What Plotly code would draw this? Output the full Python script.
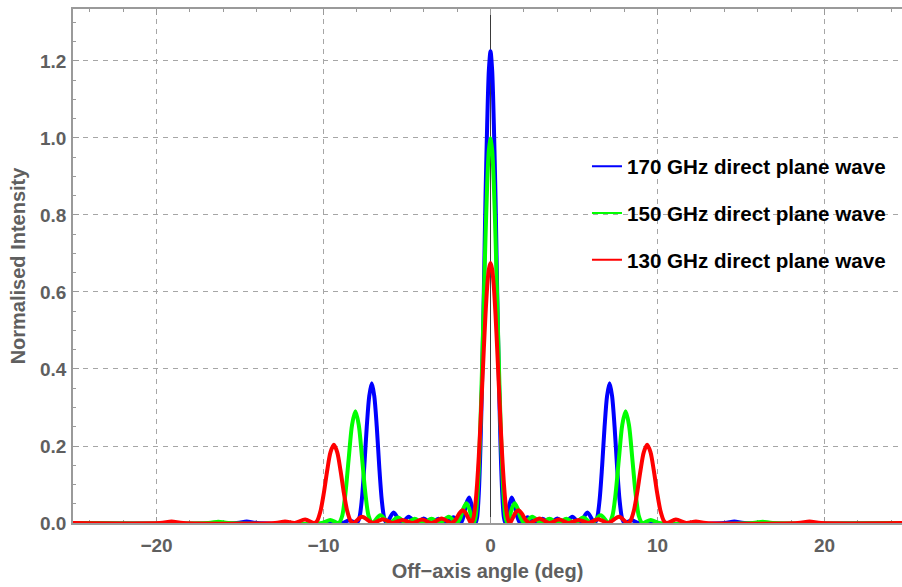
import plotly.graph_objects as go

# Far-field patterns of the direct plane wave at three frequencies
# (off-axis angle in degrees, intensity normalised to the 150 GHz peak)

deg_170 = [-25, -15.2, -14.6, -14.0, -8.9, -8.45, -8.01,
           -7.86, -7.71, -7.56, -7.41, -7.26, -7.11, -6.96, -6.81, -6.66, -6.51, -6.36,
           -6.22, -5.8, -5.34, -4.9, -4.45, -4.0, -3.56, -3.12, -2.67, -2.22, -1.78,
           -1.6, -1.45, -1.28, -1.12, -1.0, -0.89,
           -0.8, -0.7, -0.6, -0.5, -0.4, -0.3, -0.2, -0.1, 0,
           0.1, 0.2, 0.3, 0.4, 0.5, 0.6, 0.7, 0.8, 0.89,
           1.0, 1.12, 1.27, 1.42, 1.58, 1.78,
           2.22, 2.67, 3.12, 3.56, 4.0, 4.45, 4.9, 5.34, 5.8, 6.23,
           6.38, 6.53, 6.68, 6.83, 6.98, 7.13, 7.28, 7.43, 7.58, 7.73, 7.88,
           8.03, 8.45, 8.9, 14.0, 14.6, 15.2, 25]
int_170 = [0, 0, 0.004, 0, 0, 0.007, 0,
           0.012, 0.059, 0.145, 0.25, 0.33, 0.363, 0.33, 0.25, 0.145, 0.059, 0.012,
           0, 0.027, 0, 0.016, 0, 0.012, 0, 0.011, 0, 0.015, 0,
           0.02, 0.05, 0.066, 0.045, 0.016, 0,
           0.015, 0.078, 0.20, 0.38, 0.60, 0.845, 1.035, 1.175, 1.225,
           1.175, 1.035, 0.845, 0.60, 0.38, 0.20, 0.078, 0.015, 0,
           0.016, 0.045, 0.066, 0.05, 0.02, 0,
           0.015, 0, 0.011, 0, 0.012, 0, 0.016, 0, 0.027, 0,
           0.012, 0.059, 0.145, 0.25, 0.33, 0.363, 0.33, 0.25, 0.145, 0.059, 0.012,
           0, 0.007, 0, 0, 0.004, 0, 0]

deg_150 = [-25, -16.9, -16.3, -15.7, -10.1, -9.6, -9.09,
           -8.89, -8.69, -8.49, -8.29, -8.09, -7.89, -7.69, -7.49, -7.29,
           -7.07, -6.6, -6.06, -5.55, -5.05, -4.55, -4.04, -3.53, -3.03, -2.5, -2.02,
           -1.8, -1.62, -1.45, -1.3, -1.15, -1.01,
           -0.9, -0.8, -0.7, -0.6, -0.5, -0.4, -0.3, -0.2, -0.1, 0,
           0.1, 0.2, 0.3, 0.4, 0.5, 0.6, 0.7, 0.8, 0.9,
           1.01, 1.15, 1.3, 1.45, 1.62, 1.8, 2.02,
           2.5, 3.03, 3.53, 4.04, 4.55, 5.05, 5.55, 6.06, 6.6, 7.07,
           7.29, 7.49, 7.69, 7.89, 8.09, 8.29, 8.49, 8.69, 8.89,
           9.09, 9.6, 10.1, 15.7, 16.3, 16.9, 25]
int_150 = [0, 0, 0.003, 0, 0, 0.008, 0,
           0.017, 0.076, 0.168, 0.255, 0.29, 0.255, 0.168, 0.076, 0.017,
           0, 0.02, 0, 0.014, 0, 0.011, 0, 0.011, 0, 0.016, 0,
           0.014, 0.038, 0.051, 0.04, 0.018, 0,
           0.014, 0.06, 0.143, 0.263, 0.413, 0.58, 0.741, 0.878, 0.968, 1.0,
           0.968, 0.878, 0.741, 0.58, 0.413, 0.263, 0.143, 0.06, 0.014,
           0, 0.018, 0.04, 0.051, 0.038, 0.014, 0,
           0.016, 0, 0.011, 0, 0.011, 0, 0.014, 0, 0.02, 0,
           0.017, 0.076, 0.168, 0.255, 0.29, 0.255, 0.168, 0.076, 0.017,
           0, 0.008, 0, 0, 0.003, 0, 0]

deg_130 = [-25, -19.8, -19.1, -18.4, -12.9, -12.3, -11.72, -11.1, -10.55,
           -10.38, -10.18, -9.98, -9.78, -9.58, -9.38, -9.18, -8.98, -8.78, -8.58, -8.38,
           -8.21, -7.7, -7.04, -6.45, -5.86, -5.28, -4.69, -4.1, -3.52, -2.93, -2.35,
           -2.1, -1.88, -1.68, -1.5, -1.32, -1.17,
           -1.1, -1.0, -0.9, -0.8, -0.7, -0.6, -0.5, -0.4, -0.3, -0.2, -0.1, 0,
           0.1, 0.2, 0.3, 0.4, 0.5, 0.6, 0.7, 0.8, 0.9, 1.0, 1.1,
           1.17, 1.32, 1.5, 1.68, 1.88, 2.1, 2.35,
           2.93, 3.52, 4.1, 4.69, 5.28, 5.86, 6.45, 7.04, 7.7, 8.21,
           8.38, 8.58, 8.78, 8.98, 9.18, 9.38, 9.58, 9.78, 9.98, 10.18, 10.38,
           10.55, 11.1, 11.72, 12.3, 12.9, 18.4, 19.1, 19.8, 25]
int_130 = [0, 0, 0.004, 0, 0, 0.004, 0, 0.009, 0,
           0.0055, 0.031, 0.078, 0.136, 0.184, 0.203, 0.184, 0.136, 0.078, 0.031, 0.0055,
           0, 0.016, 0, 0.01, 0, 0.008, 0, 0.009, 0, 0.012, 0,
           0.008, 0.024, 0.033, 0.027, 0.012, 0,
           0.003, 0.018, 0.051, 0.103, 0.174, 0.26, 0.356, 0.452, 0.541, 0.613, 0.659, 0.675,
           0.659, 0.613, 0.541, 0.452, 0.356, 0.26, 0.174, 0.103, 0.051, 0.018, 0.003,
           0, 0.012, 0.027, 0.033, 0.024, 0.008, 0,
           0.012, 0, 0.009, 0, 0.008, 0, 0.01, 0, 0.016, 0,
           0.0055, 0.031, 0.078, 0.136, 0.184, 0.203, 0.184, 0.136, 0.078, 0.031, 0.0055,
           0, 0.009, 0, 0.004, 0, 0, 0.004, 0, 0]

series_names = ["170 GHz direct plane wave",
                "150 GHz direct plane wave",
                "130 GHz direct plane wave"]
series_colors = ["#0000FF", "#00FF00", "#FF0000"]
series_x = [deg_170, deg_150, deg_130]
series_y = [int_170, int_150, int_130]

x_ticks = [-20, -10, 0, 10, 20]

LABEL_GREY = "#5f5f5f"
FRAME_GREY = "#9a9a9a"
GRID_GREY = "#a6a6a6"
FONT_FAMILY = "Liberation Sans, Arial, sans-serif"

fig = go.Figure()

for name, color, xs, ys in zip(series_names, series_colors, series_x, series_y):
    fig.add_trace(go.Scatter(
        x=xs, y=ys, mode="lines", name=name, showlegend=False,
        line=dict(color=color, width=4, shape="spline", smoothing=0.8),
        hoverinfo="skip",
    ))

# thin legend keys
for i, (name, color) in enumerate(zip(series_names, series_colors)):
    fig.add_trace(go.Scatter(
        x=[None], y=[None], mode="lines", name=name,
        legendgroup=f"g{i}", line=dict(color=color, width=2),
    ))

tick_font = dict(family=FONT_FAMILY, size=19, color=LABEL_GREY, weight="bold")
title_font = dict(family=FONT_FAMILY, size=20, color=LABEL_GREY, weight="bold")

fig.update_layout(
    width=902, height=587,
    margin=dict(l=73, r=0, t=9, b=64),
    paper_bgcolor="white", plot_bgcolor="white",
    showlegend=True,
    legend=dict(
        x=0.62, y=0.733, xanchor="left", yanchor="top",
        bgcolor="rgba(0,0,0,0)", borderwidth=0,
        font=dict(family=FONT_FAMILY, size=20.6, color="black", weight="bold"),
        tracegroupgap=17, itemwidth=30,
    ),
    xaxis=dict(
        range=[-25, 24.64],
        tickmode="array", tickvals=x_ticks,
        ticks="inside", ticklen=6, tickcolor=FRAME_GREY, tickwidth=1,
        showline=True, linecolor=FRAME_GREY, linewidth=1.5, mirror="ticks",
        showgrid=True, gridcolor=GRID_GREY, gridwidth=1, griddash="5px,5px",
        zeroline=True, zerolinecolor="#3a3a3a", zerolinewidth=1,
        minor=dict(dtick=2, tick0=0, ticks="inside", ticklen=3,
                   tickcolor=FRAME_GREY, showgrid=False),
        tickfont=tick_font, ticklabelstandoff=4,
        title=dict(text="Off\u2212axis angle (deg)", font=title_font, standoff=9),
        layer="below traces",
    ),
    yaxis=dict(
        range=[0, 1.335],
        tick0=0, dtick=0.2, tickformat=".1f",
        ticks="inside", ticklen=6, tickcolor=FRAME_GREY, tickwidth=1,
        showline=True, linecolor=FRAME_GREY, linewidth=1.5, mirror=False,
        showgrid=True, gridcolor=GRID_GREY, gridwidth=1, griddash="5px,5px",
        zeroline=False,
        minor=dict(dtick=0.05, tick0=0, ticks="inside", ticklen=3,
                   tickcolor=FRAME_GREY, showgrid=False),
        tickfont=tick_font, ticklabelstandoff=1,
        title=dict(text="Normalised Intensity", font=title_font, standoff=9),
        layer="below traces",
    ),
)

fig.write_html("out.html")
